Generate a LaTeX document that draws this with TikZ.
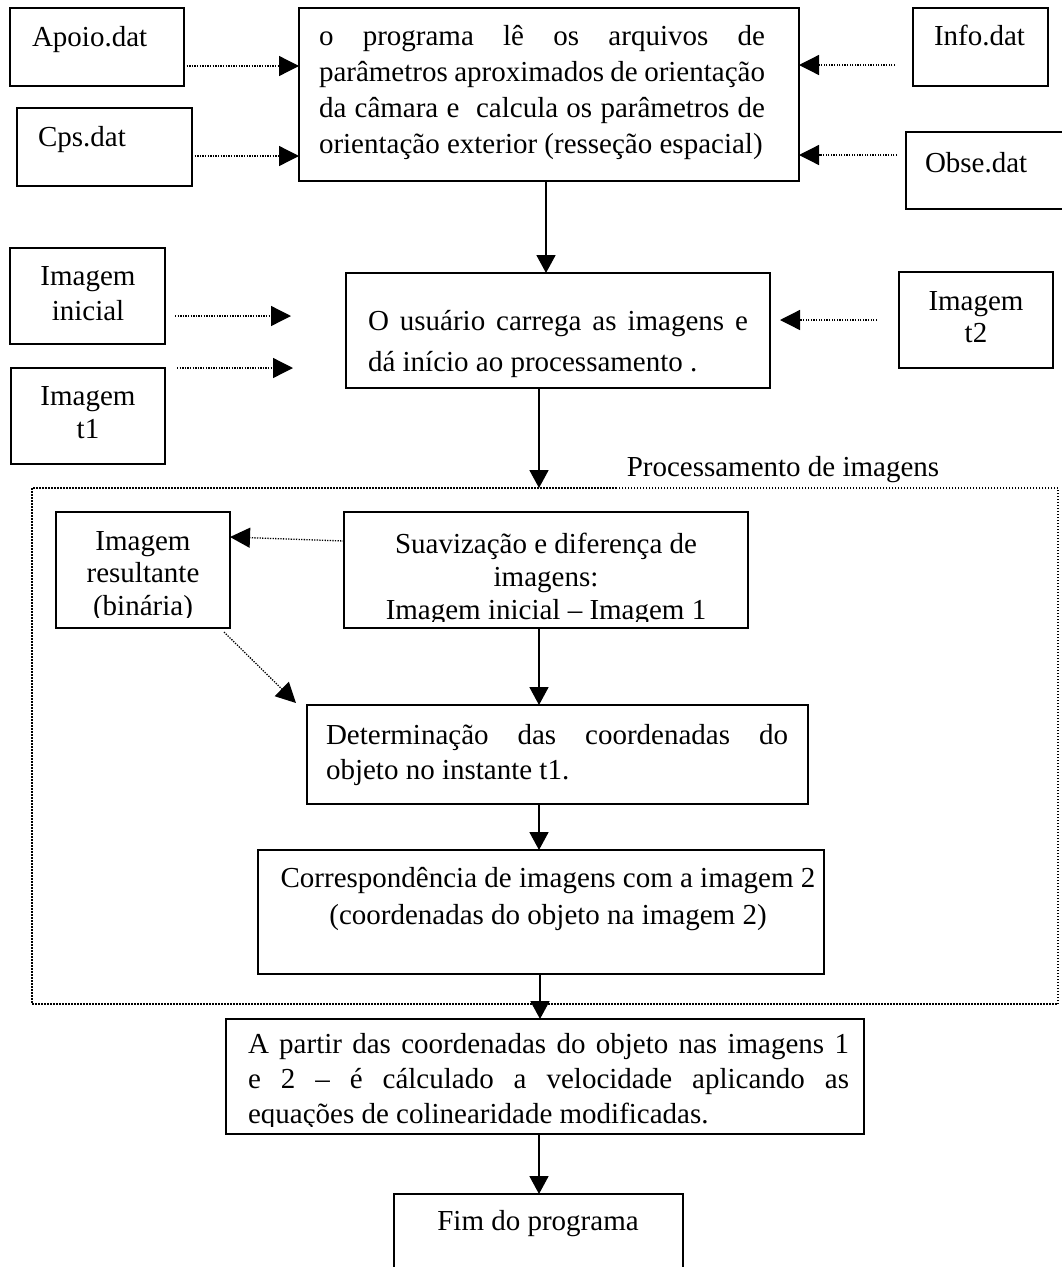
\documentclass[tikz,border=0pt]{standalone}
\usepackage{fontspec}
\setmainfont{Liberation Serif}
\usetikzlibrary{arrows.meta,calc}

% stacked lines: first line's baseline is the box baseline
\newcommand\stackC[2]{\vtop{\baselineskip=#1\lineskiplimit=-\maxdimen\halign{\hfil##\hfil\cr#2\crcr}}}
\newcommand\stackL[2]{\vtop{\baselineskip=#1\lineskiplimit=-\maxdimen\halign{##\hfil\cr#2\crcr}}}
\newcommand\just[2]{\makebox[#1][s]{#2}}

\begin{document}
\begin{tikzpicture}[x=1pt,y=-1pt,
  box/.style={draw, line width=1.8pt, inner sep=0pt, outer sep=0pt},
  txt/.style={inner sep=0pt, outer sep=0pt, font=\fontsize{29pt}{34pt}\selectfont},
  flow/.style={line width=1.8pt, -{Triangle[length=18pt,width=19pt]}},
  feed/.style={line width=1.3pt, dash pattern=on 1.3pt off 1.3pt, -{Triangle[length=20pt,width=20pt]}},
  group/.style={draw, line width=2pt, dash pattern=on 1.5pt off 1.5pt, inner sep=0pt, outer sep=0pt}]
\useasboundingbox (0,0) rectangle (1061,1267);

% ---- input files and main reading step
\node[box, minimum width=174pt, minimum height=78pt] (apoio) at (97,47) {};
\node[box, minimum width=175pt, minimum height=78pt] (cps) at (104.5,147) {};
\node[box, minimum width=135pt, minimum height=78pt] (info) at (980.5,47) {};
\node[box, minimum width=169pt, minimum height=77pt] (obse) at (990.5,170.5) {};
\node[box, minimum width=500pt, minimum height=173pt] (main) at (549,94.5) {};

\node[txt, anchor=base west] at (32,46) {Apoio.dat};
\node[txt, anchor=base west] at (38,146) {Cps.dat};
\node[txt, anchor=base west] at (934,45) {Info.dat};
\node[txt, anchor=base west] at (925,172) {Obse.dat};
\node[txt, anchor=base west] at (319,45) {\stackL{36pt}{%
  \just{446pt}{o programa lê os arquivos de}\cr
  \just{446pt}{parâmetros aproximados de orientação}\cr
  \just{446pt}{da câmara e\ \ calcula os parâmetros de}\cr
  orientação exterior (resseção espacial)}};

% ---- images loaded by the user
\node[box, minimum width=155pt, minimum height=96pt] (ini) at (87.5,296) {};
\node[box, minimum width=154pt, minimum height=96pt] (t1) at (88,416) {};
\node[box, minimum width=154pt, minimum height=96pt] (t2) at (976,320) {};
\node[box, minimum width=424pt, minimum height=115pt] (mid) at (558,330.5) {};

\node[txt, anchor=base] at (88,285) {\stackC{35pt}{Imagem\cr inicial}};
\node[txt, anchor=base] at (88,405) {\stackC{33pt}{Imagem\cr t1}};
\node[txt, anchor=base] at (976,310) {\stackC{32pt}{Imagem\cr t2}};
\node[txt, anchor=base west] at (368,330) {\stackL{41pt}{%
  \just{380pt}{O usuário carrega as imagens e}\cr
  dá início ao processamento .}};

% ---- image processing group
\node[group, minimum width=1026pt, minimum height=516pt] (proc) at (545,746) {};
\node[txt, anchor=base] at (783,476) {Processamento de imagens};

\node[box, minimum width=174pt, minimum height=116pt] (res) at (143,570) {};
\node[box, minimum width=404pt, minimum height=116pt] (suav) at (546,570) {};
\node[box, minimum width=501pt, minimum height=99pt] (det) at (557.5,754.5) {};
\node[box, minimum width=566pt, minimum height=124pt] (corr) at (541,912) {};

\begin{scope}
  \clip (56,512) rectangle (230,617);
  \node[txt, anchor=base] at (143,550) {\stackC{32.5pt}{Imagem\cr resultante\cr (binária)}};
\end{scope}
\begin{scope}
  \clip (344,512) rectangle (748,621);
  \node[txt, anchor=base] at (546,553) {\stackC{33pt}{Suavização e diferença de\cr imagens:\cr Imagem inicial – Imagem 1}};
\end{scope}
\node[txt, anchor=base west] at (326,744) {\stackL{35pt}{%
  \just{462pt}{Determinação das coordenadas do}\cr
  objeto no instante t1.}};
\node[txt, anchor=base] at (548,887) {\stackC{37pt}{Correspondência de imagens com a imagem 2\cr
  (coordenadas do objeto na imagem 2)}};

% ---- velocity and end
\node[box, minimum width=638pt, minimum height=115pt] (apartir) at (545,1076.5) {};
\node[box, minimum width=289pt, minimum height=96pt] (fim) at (538.5,1242) {};

\begin{scope}
  \clip (226,1019) rectangle (864,1126);
  \node[txt, anchor=base west] at (248,1053) {\stackL{35pt}{%
    \just{601pt}{A partir das coordenadas do objeto nas imagens 1}\cr
    \just{601pt}{e 2 – é cálculado a velocidade aplicando as}\cr
    equações de colinearidade modificadas.}};
\end{scope}
\node[txt, anchor=base] at (538,1230) {Fim do programa};

% ---- dotted feeds
\draw[feed] (apoio.east |- 0,66) -- (main.west |- 0,66);
\draw[feed] (cps.east |- 0,156) -- (main.west |- 0,156);
\draw[feed] ($(info.west |- 0,65)+(-18,0)$) -- (main.east |- 0,65);
\draw[feed] ($(obse.west |- 0,155)+(-9,0)$) -- (main.east |- 0,155);
\draw[feed] ($(ini.east |- 0,316)+(10,0)$) -- ($(mid.west |- 0,316)+(-55,0)$);
\draw[feed] ($(t1.east |- 0,368)+(12,0)$) -- ($(mid.west |- 0,368)+(-53,0)$);
\draw[feed] ($(t2.west |- 0,320)+(-22,0)$) -- ($(mid.east |- 0,320)+(10,0)$);
\draw[feed] (suav.west |- 0,541) -- (res.east |- 0,537);
\draw[feed] ($(res.south east)+(-6,4)$) -- ($(det.north west)+(-11,-2)$);

% ---- main flow
\draw[flow] (main.south -| 546,0) -- (mid.north -| 546,0);
\draw[flow] (mid.south -| 539,0) -- (proc.north -| 539,0);
\draw[flow] (suav.south -| 539,0) -- (det.north -| 539,0);
\draw[flow] (det.south -| 539,0) -- (corr.north -| 539,0);
\draw[flow] (corr.south -| 540,0) -- (apartir.north -| 540,0);
\draw[flow] (apartir.south -| 539,0) -- (fim.north -| 539,0);
\end{tikzpicture}
\end{document}
